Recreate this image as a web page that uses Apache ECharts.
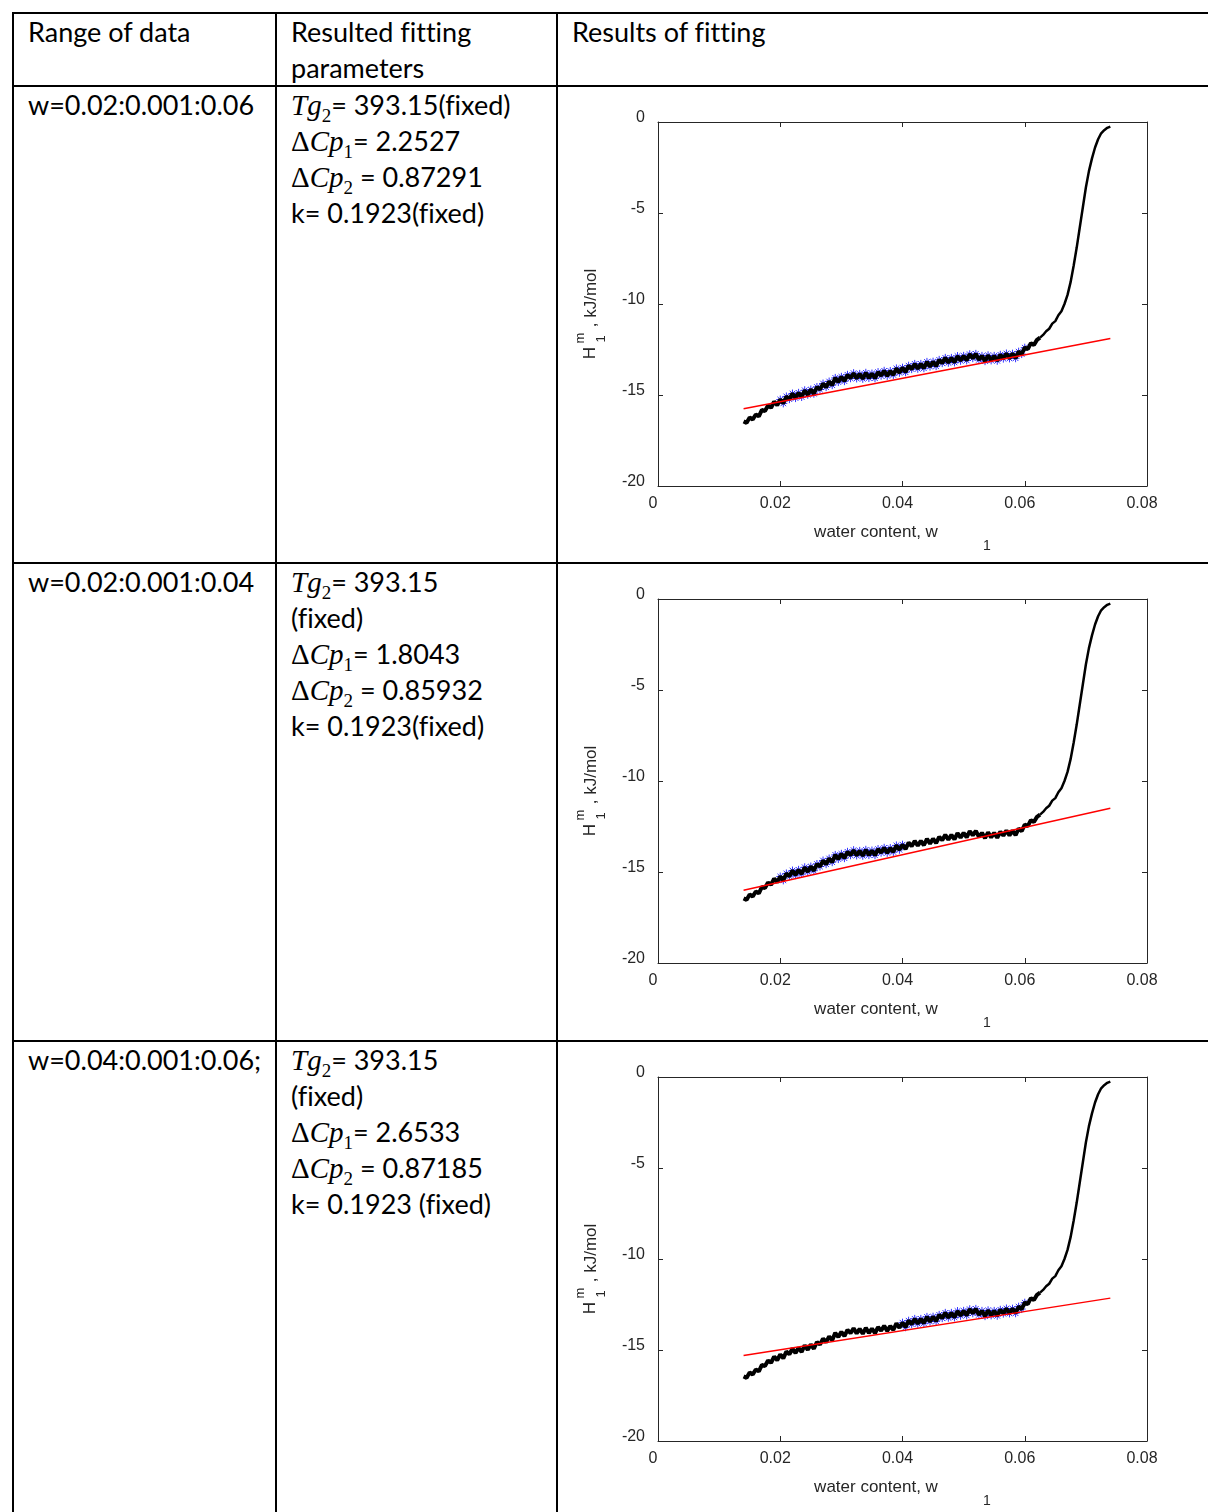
<!DOCTYPE html>
<html>
<head>
<meta charset="utf-8">
<script src="https://cdn.jsdelivr.net/npm/echarts@6/dist/echarts.min.js"></script>
<style>
  html, body { margin: 0; padding: 0; background: #fff; }
  #page { position: relative; width: 1208px; height: 1512px; overflow: hidden; background: #fff; }
  .hl { position: absolute; left: 12px; width: 1196px; height: 2px; background: #000; }
  .vl { position: absolute; top: 12px; width: 2px; height: 1500px; background: #000; }
  .cell { position: absolute; font-family: Lato, "Open Sans", sans-serif; font-size: 27px; color: #000; white-space: nowrap; font-variant-ligatures: none; }
  .ln { height: 36px; line-height: 36px; overflow: visible; }
  .m { font-family: "Liberation Serif", "DejaVu Serif", serif; font-style: italic; font-size: 29px; line-height: 0; }
  .u { font-family: "Liberation Serif", "DejaVu Serif", serif; font-size: 29px; line-height: 0; }
  .s { font-family: "Liberation Serif", "DejaVu Serif", serif; font-size: 19px; position: relative; top: 7px; line-height: 0; }
  .chart { position: absolute; left: 558px; width: 650px; height: 476px; }
</style>
</head>
<body>
<div id="page">
  <div class="hl" style="top:12px"></div>
  <div class="hl" style="top:85px"></div>
  <div class="hl" style="top:562px"></div>
  <div class="hl" style="top:1040px"></div>
  <div class="vl" style="left:12px"></div>
  <div class="vl" style="left:275px"></div>
  <div class="vl" style="left:556px"></div>

  <div class="cell" style="left:28px;top:14px"><div class="ln">Range of data</div></div>
  <div class="cell" style="left:291px;top:14px"><div class="ln">Resulted fitting</div><div class="ln">parameters</div></div>
  <div class="cell" style="left:572px;top:14px"><div class="ln">Results of fitting</div></div>
</div>
<script>
// measured curve (same data in every row)
const wData = [
  0.0140, 0.0145, 0.0150, 0.0155, 0.0160, 0.0165, 0.0170, 0.0175, 0.0180, 0.0185,
  0.0190, 0.0195, 0.0200, 0.0205, 0.0210, 0.0215, 0.0220, 0.0225, 0.0230, 0.0235,
  0.0240, 0.0245, 0.0250, 0.0255, 0.0260, 0.0265, 0.0270, 0.0275, 0.0280, 0.0285,
  0.0290, 0.0295, 0.0300, 0.0305, 0.0310, 0.0315, 0.0320, 0.0325, 0.0330, 0.0335,
  0.0340, 0.0345, 0.0350, 0.0355, 0.0360, 0.0365, 0.0370, 0.0375, 0.0380, 0.0385,
  0.0390, 0.0395, 0.0400, 0.0405, 0.0410, 0.0415, 0.0420, 0.0425, 0.0430, 0.0435,
  0.0440, 0.0445, 0.0450, 0.0455, 0.0460, 0.0465, 0.0470, 0.0475, 0.0480, 0.0485,
  0.0490, 0.0495, 0.0500, 0.0505, 0.0510, 0.0515, 0.0520, 0.0525, 0.0530, 0.0535,
  0.0540, 0.0545, 0.0550, 0.0555, 0.0560, 0.0565, 0.0570, 0.0575, 0.0580, 0.0585,
  0.0590, 0.0595, 0.0600, 0.0605, 0.0610, 0.0615, 0.0620, 0.0625, 0.0630, 0.0635,
  0.0640, 0.0645, 0.0650, 0.0655, 0.0660, 0.0665, 0.0670, 0.0675, 0.0680, 0.0685,
  0.0690, 0.0695, 0.0700, 0.0705, 0.0710, 0.0715, 0.0720, 0.0725, 0.0730, 0.0735,
  0.0740
];
const hData = [
  -16.45, -16.53, -16.23, -16.35, -16.07, -16.17, -15.82, -15.88, -15.58, -15.70,
  -15.36, -15.56, -15.25, -15.46, -15.08, -15.23, -14.92, -15.17, -14.88, -15.11,
  -14.74, -14.99, -14.70, -14.93, -14.56, -14.70, -14.37, -14.57, -14.26, -14.46,
  -14.06, -14.29, -14.00, -14.24, -13.89, -14.08, -13.80, -14.09, -13.84, -14.11,
  -13.78, -14.07, -13.82, -14.08, -13.74, -13.94, -13.67, -13.95, -13.68, -13.90,
  -13.54, -13.78, -13.50, -13.75, -13.39, -13.58, -13.29, -13.56, -13.29, -13.53,
  -13.18, -13.44, -13.17, -13.42, -13.07, -13.25, -12.96, -13.23, -12.96, -13.21,
  -12.86, -13.12, -12.85, -13.10, -12.76, -12.98, -12.74, -13.07, -12.85, -13.14,
  -12.82, -13.10, -12.85, -13.12, -12.79, -13.00, -12.72, -12.99, -12.73, -12.98,
  -12.62, -12.75, -12.40, -12.48, -12.15, -12.25, -11.97, -11.85, -11.70, -11.50,
  -11.36, -11.08, -10.94, -10.62, -10.40, -10.00, -9.50, -8.80, -7.90, -6.90,
  -5.80, -4.70, -3.60, -2.70, -2.00, -1.40, -0.95, -0.62, -0.45, -0.32,
  -0.25
];
const steepStart = 0.0625;

// table rows
const rangeLabels = ['w=0.02:0.001:0.06', 'w=0.02:0.001:0.04', 'w=0.04:0.001:0.06;'];
const tg2Lines = [['393.15(fixed)'], ['393.15', '(fixed)'], ['393.15', '(fixed)']];
const dCp1 = ['2.2527', '1.8043', '2.6533'];
const dCp2 = ['0.87291', '0.85932', '0.87185'];
const kText = ['0.1923(fixed)', '0.1923(fixed)', '0.1923 (fixed)'];

// fitted ranges and fitted line
const fitRanges = [[0.02, 0.06], [0.02, 0.04], [0.04, 0.06]];
const fitW = [0.014, 0.074];
const fitH = [[-15.75, -11.9], [-16.0, -11.5], [-15.3, -12.15]];

const xTicks = [0, 0.02, 0.04, 0.06, 0.08];
const yTicks = [-20, -15, -10, -5, 0];

const rowTops = [86, 563, 1041];
const page = document.getElementById('page');
const axisColor = '#262626';
const starPath = 'path://M0,-1L0,1M-1,0L1,0M-0.7,-0.7L0.7,0.7M-0.7,0.7L0.7,-0.7';

rowTops.forEach(function (top, i) {
  const c1 = document.createElement('div');
  c1.className = 'cell';
  c1.style.left = '28px';
  c1.style.top = (top + 1) + 'px';
  c1.innerHTML = '<div class="ln">' + rangeLabels[i] + '</div>';
  page.appendChild(c1);

  const c2 = document.createElement('div');
  c2.className = 'cell';
  c2.style.left = '291px';
  c2.style.top = (top + 1) + 'px';
  const lines = [];
  tg2Lines[i].forEach(function (t, j) {
    lines.push(j === 0 ? '<span class="m">Tg</span><span class="s">2</span>= ' + t : t);
  });
  lines.push('<span class="u">Δ</span><span class="m">Cp</span><span class="s">1</span>= ' + dCp1[i]);
  lines.push('<span class="u">Δ</span><span class="m">Cp</span><span class="s">2</span> = ' + dCp2[i]);
  lines.push('k= ' + kText[i]);
  c2.innerHTML = lines.map(function (l) { return '<div class="ln">' + l + '</div>'; }).join('');
  page.appendChild(c2);

  const div = document.createElement('div');
  div.className = 'chart';
  div.style.top = top + 'px';
  page.appendChild(div);

  const pairs = wData.map(function (w, j) { return [w, hData[j]]; });
  const noisy = pairs.filter(function (p) { return p[0] <= steepStart; });
  const steep = pairs.filter(function (p) { return p[0] >= steepStart; });
  const r = fitRanges[i];
  const fitted = pairs.filter(function (p) { return p[0] >= r[0] && p[0] <= r[1]; });
  const fitLine = fitW.map(function (w, j) { return [w, fitH[i][j]]; });

  const tickFont = { color: axisColor, fontSize: 16, fontFamily: 'Liberation Sans' };
  const txt = function (text, x, y, size, rot) {
    return {
      type: 'text', x: x, y: y, rotation: rot || 0, silent: true,
      style: {
        text: text, fill: axisColor, font: size + 'px "Liberation Sans"',
        align: 'center', verticalAlign: 'middle', textAlign: 'center', textVerticalAlign: 'middle'
      }
    };
  };
  const rot = Math.PI / 2;
  const boxAxis = {
    axisLine: { show: true, onZero: false, lineStyle: { color: axisColor, width: 1 } },
    axisTick: { show: true, inside: true, length: 5, lineStyle: { color: axisColor } },
    splitLine: { show: false }
  };

  const chart = echarts.init(div);
  chart.setOption({
    animation: false,
    grid: { left: 100, top: 36, width: 489, height: 364 },
    xAxis: [
      Object.assign({
        type: 'value', min: xTicks[0], max: xTicks[xTicks.length - 1], interval: 0.02,
        position: 'bottom',
        axisLabel: Object.assign({ margin: 10, padding: [0, 10, 0, 0],
          formatter: function (v) { return v === 0 ? '0' : v.toFixed(2); } }, tickFont)
      }, boxAxis),
      Object.assign({
        type: 'value', min: xTicks[0], max: xTicks[xTicks.length - 1], interval: 0.02,
        position: 'top', axisLabel: { show: false }
      }, boxAxis)
    ],
    yAxis: [
      Object.assign({
        type: 'value', min: yTicks[0], max: yTicks[yTicks.length - 1], interval: 5,
        position: 'left',
        axisLabel: Object.assign({ margin: 13, verticalAlign: 'bottom', lineHeight: 9 }, tickFont)
      }, boxAxis),
      Object.assign({
        type: 'value', min: yTicks[0], max: yTicks[yTicks.length - 1], interval: 5,
        position: 'right', axisLabel: { show: false }
      }, boxAxis)
    ],
    graphic: [
      txt('water content, w', 318, 446, 17),
      txt('1', 429, 460, 14),
      txt('H', 32, 267, 17, rot),
      txt('m', 22, 252, 13, rot),
      txt('1', 43, 253, 13, rot),
      txt(', kJ/mol', 33, 212, 17, rot)
    ],
    series: [
      {
        name: 'fitted data',
        type: 'scatter',
        data: fitted,
        symbol: starPath,
        symbolSize: 8,
        itemStyle: { color: 'none', borderColor: '#0000ff', borderWidth: 1 },
        silent: true
      },
      {
        name: 'data',
        type: 'line',
        data: noisy,
        showSymbol: false,
        lineStyle: { color: '#000', width: 4, join: 'bevel', cap: 'butt' },
        silent: true
      },
      {
        name: 'data (steep)',
        type: 'line',
        data: steep,
        showSymbol: false,
        lineStyle: { color: '#000', width: 2.5 },
        silent: true
      },
      {
        name: 'fit',
        type: 'line',
        data: fitLine,
        showSymbol: false,
        lineStyle: { color: '#ff0000', width: 1.5 },
        silent: true
      }
    ]
  });
});
</script>
</body>
</html>
